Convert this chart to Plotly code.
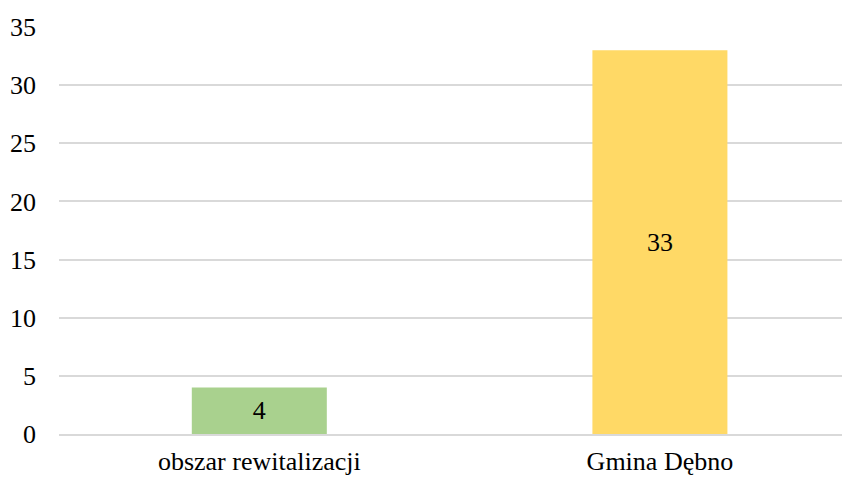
import plotly.graph_objects as go

categories = ["obszar rewitalizacji", "Gmina Dębno"]
values = [4, 33]
colors = ["#A9D18E", "#FFD966"]
y_ticks = [0, 5, 10, 15, 20, 25, 30, 35]

serif = "Times New Roman, Liberation Serif, DejaVu Serif, serif"

fig = go.Figure()
fig.add_trace(go.Bar(
    x=categories,
    y=values,
    marker=dict(color=colors, line=dict(width=0)),
    width=0.337,
    text=[str(v) for v in values],
    textposition="inside",
    insidetextanchor="middle",
    textfont=dict(family=serif, size=26, color="#000000"),
    showlegend=False,
))

# the page body has an 8px margin, so the figure is 8px smaller in each direction
fig.update_layout(
    width=842,
    height=469,
    margin=dict(l=51, r=1, t=19, b=43),
    plot_bgcolor="white",
    paper_bgcolor="white",
    font=dict(family=serif, size=26, color="#000000"),
    xaxis=dict(
        range=[-0.5, 1.472],
        showgrid=False,
        showline=True,
        linecolor="#D9D9D9",
        linewidth=1.5,
        ticks="",
        ticklabelstandoff=3,
        automargin=False,
    ),
    yaxis=dict(
        range=[0, 35],
        tickvals=y_ticks,
        showgrid=True,
        gridcolor="#D9D9D9",
        gridwidth=1.5,
        zeroline=False,
        showline=False,
        ticks="",
        ticklabelstandoff=22,
        automargin=False,
    ),
)

fig.write_html("out.html")
